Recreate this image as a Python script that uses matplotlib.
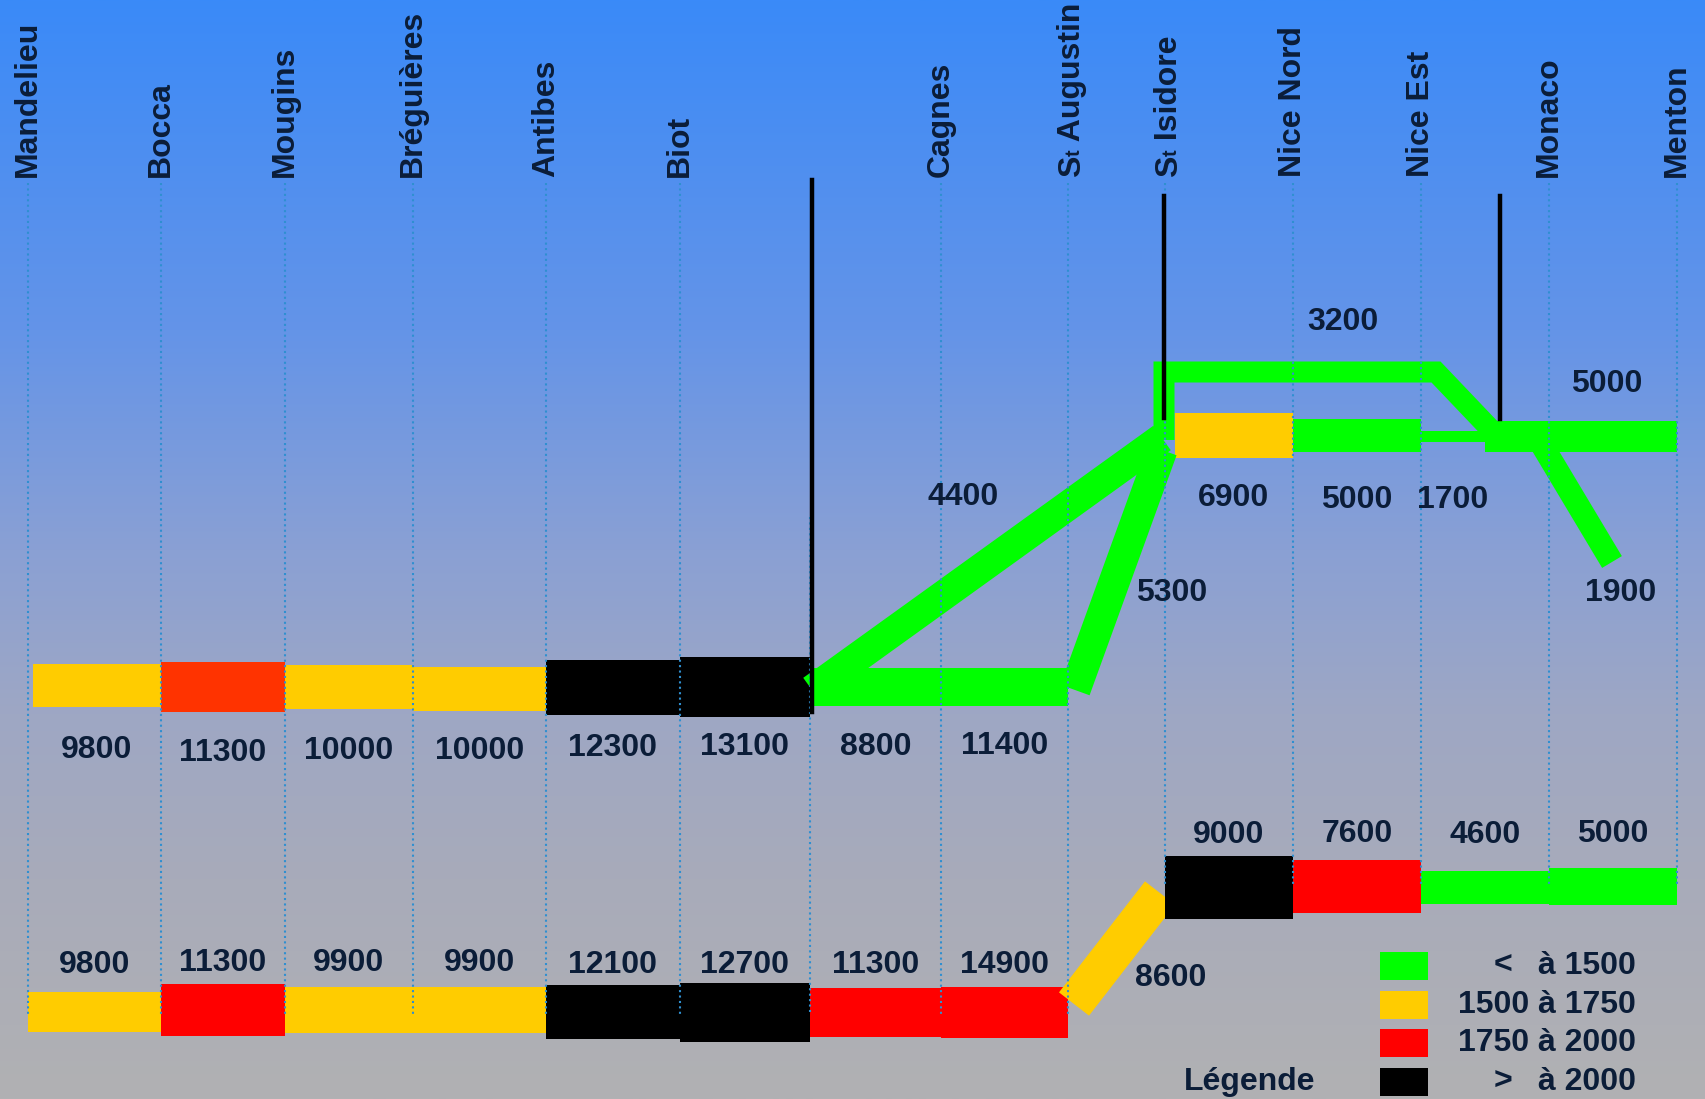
import numpy as np
import matplotlib
matplotlib.use('Agg')
import matplotlib.pyplot as plt

plt.rcParams['font.family'] = ['Liberation Sans', 'DejaVu Sans']

# stations (the unnamed one between Biot and Cagnes has no label)
# 'St' names are written S + small t
stations = ['Mandelieu', 'Bocca', 'Mougins', 'Bréguières', 'Antibes', 'Biot', '',
            'Cagnes', 'St Augustin', 'St Isidore', 'Nice Nord', 'Nice Est',
            'Monaco', 'Menton']

# traffic classes
cls_colors = ['#00ff00', '#ffcc00', '#ff0000', '#000000']
legend_sign = ['<', '', '', '>']
legend_txt = ['à 1500', '1500 à 1750', '1750 à 2000', 'à 2000']

# upper diagram : main line
up_a = [0, 1, 2, 3, 4, 5, 6, 7, 9, 10, 11, 12]
up_b = [1, 2, 3, 4, 5, 6, 7, 8, 10, 11, 12, 13]
up_vals = [9800, 11300, 10000, 10000, 12300, 13100, 8800, 11400, 6900, 5000, 1700, 5000]
up_cls = [1, 2, 1, 1, 3, 3, 0, 0, 1, 0, 0, 0]

# upper diagram : branches
br_vals = [4400, 5300, 3200, 1900]
br_cls = [0, 0, 0, 0]

# lower diagram
lo_a = [0, 1, 2, 3, 4, 5, 6, 7, 8, 9, 10, 11, 12]
lo_b = [1, 2, 3, 4, 5, 6, 7, 8, 9, 10, 11, 12, 13]
lo_vals = [9800, 11300, 9900, 9900, 12100, 12700, 11300, 14900, 8600, 9000, 7600, 4600, 5000]
lo_cls = [1, 2, 1, 1, 3, 3, 2, 2, 1, 3, 2, 0, 0]

# ---------------- layout (pixels) ----------------
W, H = 1706, 1099
X = [28, 161, 285, 413, 546, 680, 810, 941, 1068, 1165, 1293, 1421, 1549, 1677]
txt_col = '#0b1d38'
fs = 23

up_yc = [685, 687, 687, 689, 687, 687, 687, 687, 435, 435, 436, 436]
up_h = [43, 50, 44, 44, 55, 60, 38, 38, 45, 33, 11, 31]
up_dy = [65, 66, 64, 62, 61, 60, 60, 59, 63, 65, 64, -52]
up_x0 = [X[a] for a in up_a]
up_x1 = [X[b] for b in up_b]
up_x0[0] = 33
up_x0[8] = X[9] + 10
up_x1[10] = X[12] - 64
up_x0[11] = X[12] - 64
up_lx = [(a + b) / 2 for a, b in zip(up_x0, up_x1)]
up_lx[11] = (X[12] + X[13]) / 2 - 6
up_palette = ['#00ff00', '#ffcc00', '#ff3300', '#000000']

br_pts = [[(812, 690), (1162, 438)],
          [(1075, 690), (1162, 450)],
          [(1164, 440), (1164, 372), (1436, 372), (1497, 436)],
          [(1542, 445), (1612, 562)]]
br_w = [30, 31, 21, 23]
br_lab = [(963, 497), (1172, 593), (1343, 322), (1621, 593)]

lo_yc = [1012, 1010, 1010, 1010, 1012, 1012, 1012, 1012, None, 887, 886, 887, 886]
lo_h = [40, 52, 46, 46, 54, 59, 49, 51, 38, 63, 53, 33, 37]
lo_diag = [(1074, 1004), (1160, 893)]
lo_diag_lab = (1171, 978)

fig = plt.figure(figsize=(W / 100, H / 100), dpi=100)
ax = fig.add_axes([0, 0, 1, 1])
ax.set_xlim(0, W)
ax.set_ylim(H, 0)
ax.axis('off')
renderer = fig.canvas.get_renderer()

# background gradient
stops = [0, 0.3, 0.5, 0.65, 0.8, 1.0]
rgb = np.array([[58, 138, 248], [100, 148, 232], [138, 160, 212],
                [158, 167, 196], [168, 171, 186], [177, 177, 179]]) / 255.
t = np.linspace(0, 1, 400)
grad = np.stack([np.interp(t, stops, rgb[:, k]) for k in range(3)], axis=1)[:, None, :]
ax.imshow(grad, extent=(0, W, H, 0), aspect='auto', zorder=0)


def vlabel(x, y, s, size):
    # rotated text starting at (x, y) on its baseline, returns its length in px
    tx = ax.text(x, y, s, rotation=90, rotation_mode='anchor', ha='left', va='baseline',
                 fontsize=size, fontweight='bold', color=txt_col, zorder=6)
    return tx.get_window_extent(renderer).height


# station labels and dotted lines
for i, name in enumerate(stations):
    y0 = 183 if name else 517
    y1 = 1015 if i <= 8 else 885
    ax.plot([X[i], X[i]], [y0, y1], color='#2f8fd0', lw=1.5, ls=(0, (1, 1.6)), zorder=4)
    if not name:
        continue
    if name.startswith('St '):
        bx = X[i] + 12
        h1 = vlabel(bx, 177, 'S', fs)
        h2 = vlabel(bx, 177 - h1, 't', fs * 0.62)
        vlabel(bx, 177 - h1 - h2, ' ' + name[3:], fs)
    else:
        ax.text(X[i], 177, name, rotation=90, ha='center', va='bottom',
                fontsize=fs, fontweight='bold', color=txt_col, zorder=6)

# upper main line
for k in range(len(up_vals)):
    ax.barh(up_yc[k], up_x1[k] - up_x0[k], left=up_x0[k], height=up_h[k],
            color=up_palette[up_cls[k]], zorder=2)
    ax.text(up_lx[k], up_yc[k] + up_dy[k], str(up_vals[k]),
            ha='center', va='center', fontsize=fs, fontweight='bold', color=txt_col, zorder=6)

# upper branches
for k in range(len(br_vals)):
    xs = [p[0] for p in br_pts[k]]
    ys = [p[1] for p in br_pts[k]]
    ax.plot(xs, ys, color=cls_colors[br_cls[k]], lw=br_w[k] * 0.72,
            solid_capstyle='butt', solid_joinstyle='miter', zorder=3)
    ax.text(br_lab[k][0], br_lab[k][1], str(br_vals[k]), ha='center', va='center',
            fontsize=fs, fontweight='bold', color=txt_col, zorder=6)

# lower diagram
for k in range(len(lo_vals)):
    if lo_yc[k] is None:
        ax.plot([lo_diag[0][0], lo_diag[1][0]], [lo_diag[0][1], lo_diag[1][1]],
                color=cls_colors[lo_cls[k]], lw=lo_h[k] * 0.72, solid_capstyle='butt', zorder=2)
        ax.text(lo_diag_lab[0], lo_diag_lab[1], str(lo_vals[k]), ha='center', va='center',
                fontsize=fs, fontweight='bold', color=txt_col, zorder=6)
        continue
    x0, x1 = X[lo_a[k]], X[lo_b[k]]
    ax.barh(lo_yc[k], x1 - x0, left=x0, height=lo_h[k], color=cls_colors[lo_cls[k]], zorder=2)
    dy = -47 if k < 8 else -52
    ax.text((x0 + x1) / 2, lo_yc[k] + dy, str(lo_vals[k]), ha='center', va='center',
            fontsize=fs, fontweight='bold', color=txt_col, zorder=6)

# black markers
for x, y0, y1 in [(812, 180, 712), (1164, 196, 418), (1500, 196, 419)]:
    ax.plot([x, x], [y0, y1], color='black', lw=3.2, zorder=5)

# legend
leg_y = [966, 1005, 1043, 1082]
for k in range(4):
    ax.barh(leg_y[k], 48, left=1380, height=28, color=cls_colors[k], zorder=2)
    ax.text(1636, leg_y[k], legend_txt[k], ha='right', va='center', fontsize=fs,
            fontweight='bold', color=txt_col)
    if legend_sign[k]:
        ax.text(1503, leg_y[k], legend_sign[k], ha='center', va='center', fontsize=fs,
                fontweight='bold', color=txt_col)
ax.text(1250, 1082, 'Légende', ha='center', va='center', fontsize=fs,
        fontweight='bold', color=txt_col)

fig.savefig('out.png', dpi=100)
